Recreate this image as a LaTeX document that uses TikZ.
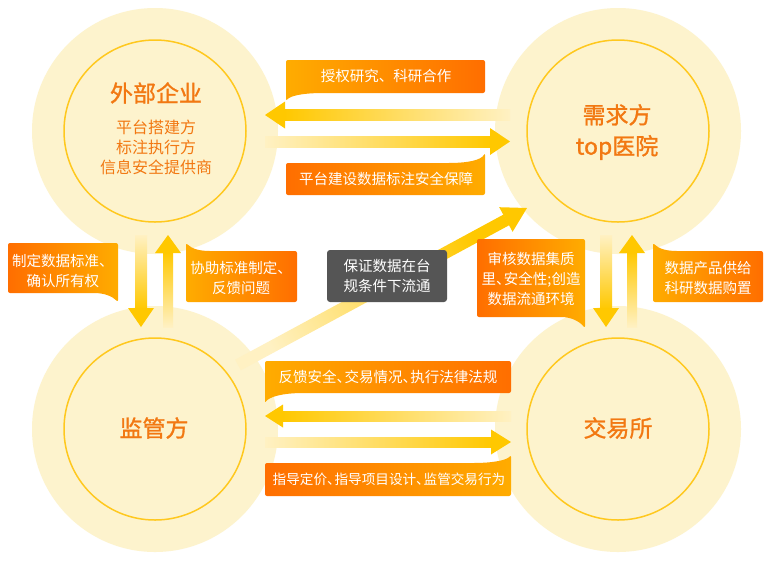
\documentclass[tikz,border=0pt]{standalone}
\usepackage{fontspec}
\setmainfont{Noto Sans CJK SC}
\newfontfamily\ttlfont{Noto Sans CJK SC}[FakeBold=1.2]
\newcommand{\hdun}{\makebox[0.55em][l]{、}}
\definecolor{OuterCol}{RGB}{253,243,205}
\definecolor{RingCol}{RGB}{255,200,30}
\definecolor{TitleCol}{RGB}{242,120,18}
\definecolor{ArrCol}{RGB}{255,200,0}
\definecolor{PaleCol}{RGB}{255,241,195}
\definecolor{DarkO}{RGB}{255,110,0}
\definecolor{LightO}{RGB}{255,172,0}
\definecolor{GrayCol}{RGB}{85,85,85}
\begin{document}
\begin{tikzpicture}[x=1pt,y=-1pt,
  outerdisc/.style={circle, fill=OuterCol, minimum size=246pt, inner sep=0pt},
  innerdisc/.style={circle, draw=RingCol, line width=1.5pt, minimum size=182pt, inner sep=0pt},
  ttl/.style={text=TitleCol, font=\ttlfont\fontsize{23}{31}\selectfont, align=center, inner sep=0pt},
  subttl/.style={text=TitleCol, font=\fontsize{16}{20}\selectfont, align=center, inner sep=0pt},
  lbl/.style={text=white, font=\fontsize{14.5}{20}\selectfont, align=center, inner sep=0pt},
  lblsmall/.style={lbl, font=\fontsize{13.6}{20}\selectfont},
  graybox/.style={fill=GrayCol, rounded corners=3pt, minimum width=120pt, minimum height=52pt, inner sep=0pt, text=white, font=\fontsize{14.5}{20}\selectfont, align=center},
  ahead/.style={fill=ArrCol}
]
\useasboundingbox (0,0) rectangle (784,566);
\fill[white] (0,0) rectangle (784,566);

% circles
\node[outerdisc] (Aout) at (155,131) {};
\node[outerdisc] (Bout) at (618,131) {};
\node[outerdisc] (Cout) at (155,429) {};
\node[outerdisc] (Dout) at (618,429) {};
\node[innerdisc] (A) at (155,131) {};
\node[innerdisc] (B) at (618,131) {};
\node[innerdisc] (C) at (155,429) {};
\node[innerdisc] (D) at (618,429) {};

\node[ttl] (At) at (156,93) {外部企业};
\node[subttl] (As) at (156,147) {平台搭建方\\标注执行方\\信息安全提供商};
\node[ttl] (Bt) at (617,132) {需求方\\top医院};
\node[ttl] (Ct) at (154,428) {监管方};
\node[ttl] (Dt) at (618,428) {交易所};

% top horizontal arrows
\shade[left color=ArrCol, right color=PaleCol] (284,109.5) rectangle (510,120.5);
\fill[ahead] (265,115) -- (285,101.5) -- (285,128.5) -- cycle;
\shade[left color=PaleCol, right color=ArrCol] (265,136) rectangle (491,147);
\fill[ahead] (510,141.5) -- (490,128) -- (490,155) -- cycle;

% bottom horizontal arrows
\shade[left color=ArrCol, right color=PaleCol] (282,411) rectangle (511,421);
\fill[ahead] (265,416) -- (283,404.5) -- (283,427.5) -- cycle;
\shade[left color=PaleCol, right color=ArrCol] (265,437) rectangle (492,447);
\fill[ahead] (511,442) -- (491,429.5) -- (491,454.5) -- cycle;

% left vertical arrows
\shade[top color=PaleCol, bottom color=ArrCol] (135,235) rectangle (147,309);
\fill[ahead] (128,308) -- (154,308) -- (141,327) -- cycle;
\shade[top color=ArrCol, bottom color=PaleCol] (163,252) rectangle (173,327);
\fill[ahead] (155,253) -- (181,253) -- (168,235) -- cycle;

% right vertical arrows
\shade[top color=PaleCol, bottom color=ArrCol] (600,235) rectangle (612,309);
\fill[ahead] (593,308) -- (619,308) -- (606,327) -- cycle;
\shade[top color=ArrCol, bottom color=PaleCol] (627,252) rectangle (637,327);
\fill[ahead] (619,253) -- (645,253) -- (632,235) -- cycle;

% diagonal arrow
\shade[top color=ArrCol, bottom color=PaleCol, shading angle=-61.5]
  (235.1,359.7) -- (503.6,214.5) -- (509.4,225.1) -- (240.9,370.3) -- cycle;
\fill[ahead] (499.2,207.2) -- (527,208) -- (512.6,231.8) -- cycle;

% labels
\shade[left color=LightO, right color=DarkO, rounded corners=2pt]
  (286,60) -- (485,60) -- (485,93) -- (325,93) .. controls (302,93) and (290,96) .. (286,101) -- cycle;
\node[lbl] (L1) at (386,76) {授权研究、科研合作};

\shade[left color=DarkO, right color=LightO, rounded corners=2pt]
  (286,195) -- (286,163) -- (446,163) .. controls (469,163) and (481,160) .. (485,153) -- (485,195) -- cycle;
\node[lbl] (L2) at (386,179) {平台建设数据标注安全保障};

\shade[left color=LightO, right color=DarkO, rounded corners=2pt]
  (265,361) -- (511,361) -- (511,393) -- (305,393) .. controls (282,393) and (269,397) .. (265,403) -- cycle;
\node[lbl] (L3) at (388,377) {反馈安全\hdun 交易情况\hdun 执行法律法规};

\shade[left color=DarkO, right color=LightO, rounded corners=2pt]
  (265,496) -- (265,463) -- (471,463) .. controls (494,463) and (507,460) .. (511,455) -- (511,496) -- cycle;
\node[lblsmall] (L4) at (389,479.5) {指导定价\hdun 指导项目设计\hdun 监管交易行为};

\shade[left color=DarkO, right color=LightO, rounded corners=2pt]
  (8,243) -- (118,243) -- (118,302) .. controls (112,296) and (104,293) .. (92,293) -- (8,293) -- cycle;
\node[lbl] (L5) at (63,271) {制定数据标准、\\确认所有权};

\shade[left color=LightO, right color=DarkO, rounded corners=2pt]
  (186,302) -- (186,243) .. controls (192,249) and (200,251) .. (212,251) -- (297,251) -- (297,302) -- cycle;
\node[lbl] (L6) at (241,278) {协助标准制定、\\反馈问题};

\shade[left color=DarkO, right color=LightO, rounded corners=2pt]
  (477,239) -- (585,239) -- (585,328) .. controls (579,321) and (571,317) .. (559,317) -- (477,317) -- cycle;
\node[lbl] (L7) at (531,279) {审核数据集质\\里\hdun 安全性;创造\\数据流通环境};

\shade[left color=LightO, right color=DarkO, rounded corners=2pt]
  (653,302) -- (653,243) .. controls (659,249) and (667,251) .. (679,251) -- (763,251) -- (763,302) -- cycle;
\node[lbl] (L8) at (708,278) {数据产品供给\\科研数据购置};

\node[graybox] (G) at (387,276) {保证数据在台\\规条件下流通};
\end{tikzpicture}
\end{document}
